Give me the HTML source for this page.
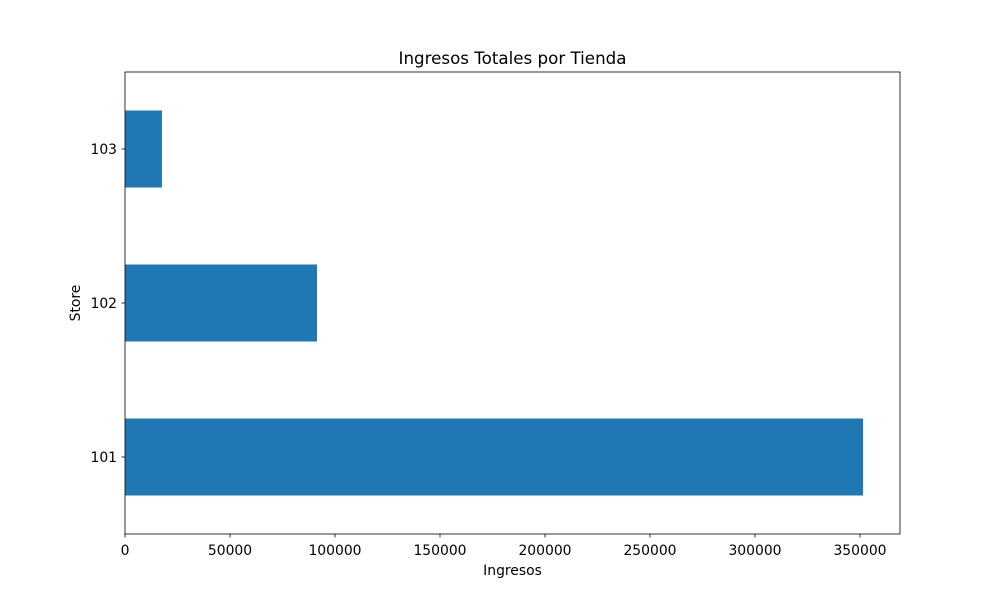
<!DOCTYPE html>
<html><head><meta charset="utf-8"><style>
body{margin:0;background:#fff;font-family:"Liberation Sans","DejaVu Sans",sans-serif;}
svg text{font-family:"DejaVu Sans","Liberation Sans",sans-serif;}
</style></head><body>
<svg id="chart" width="1000" height="600" xmlns="http://www.w3.org/2000/svg">
<rect width="1000" height="600" fill="#fff"/>
<g id="plot"></g>
</svg>
<script>
const categories = ["101","102","103"];
const values = [351474, 91430, 17600];
const xTicks = [0,50000,100000,150000,200000,250000,300000,350000];
const X0=125,X1=900,Y0=72,Y1=534;
const xMax = 351474*1.05;
function sx(v){return X0+(v/xMax)*(X1-X0);}
function sy(i){return Y1-(i+0.5)*(Y1-Y0)/3;}
const ns="http://www.w3.org/2000/svg";
const g=document.getElementById('plot');
function mk(t,a,txt){const e=document.createElementNS(ns,t);for(const k in a)e.setAttribute(k,a[k]);if(txt!==undefined)e.textContent=txt;g.appendChild(e);return e;}
const bh=0.5*(Y1-Y0)/3;
values.forEach((v,i)=>{
  const r=mk('rect',{x:sx(0),y:sy(i)-bh/2,width:sx(v)-sx(0),height:bh,fill:'#1f77b4'});
  
  
  mk('line',{x1:X0,x2:X0-3.5,y1:sy(i),y2:sy(i),stroke:'#000','stroke-width':0.8});
  const t=mk('text',{x:X0-8,y:sy(i)+5,'text-anchor':'end','font-size':13.9,fill:'#000'},categories[i]);
  
  
});
xTicks.forEach(v=>{
  mk('line',{x1:sx(v),x2:sx(v),y1:Y1,y2:Y1+3.5,stroke:'#000','stroke-width':0.8});
  const t=mk('text',{x:sx(v),y:Y1+21,'text-anchor':'middle','font-size':13.9,fill:'#000'},String(v));
  
  
});
const f=mk('rect',{x:X0,y:Y0,width:X1-X0,height:Y1-Y0,fill:'none',stroke:'#000','stroke-width':0.8});


const tt=mk('text',{x:(X0+X1)/2,y:64,'text-anchor':'middle','font-size':16.7,fill:'#000'},'Ingresos Totales por Tienda');


const xl=mk('text',{x:(X0+X1)/2,y:575,'text-anchor':'middle','font-size':13.9,fill:'#000'},'Ingresos');


const yl=mk('text',{x:0,y:0,'text-anchor':'middle','font-size':13.9,fill:'#000',transform:'translate(80,303) rotate(-90)'},'Store');


</script>
</body></html>
